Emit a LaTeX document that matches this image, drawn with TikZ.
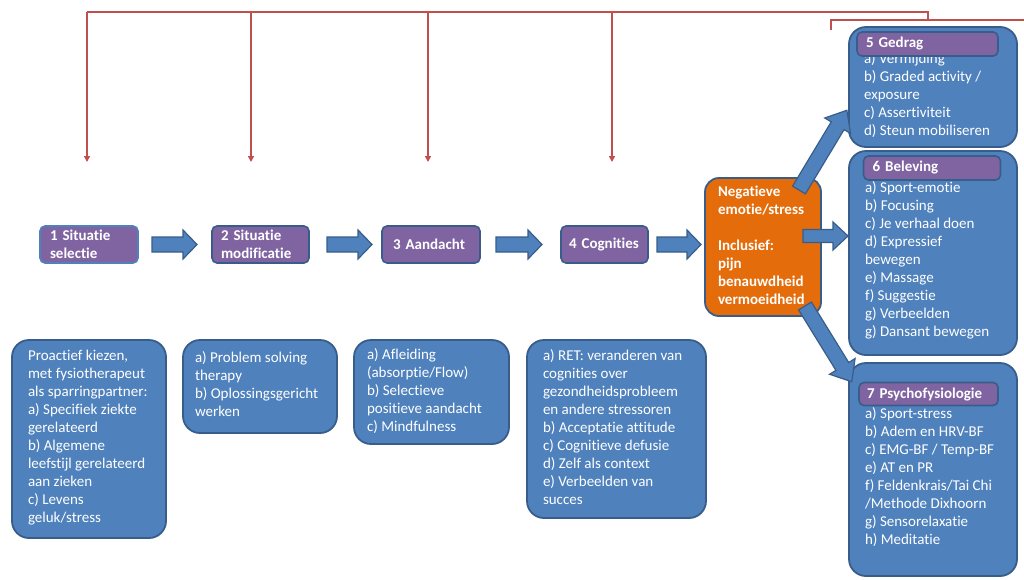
\documentclass[tikz,border=0pt]{standalone}
\usepackage{fontspec}
\setmainfont{Carlito}[Ligatures={NoCommon,NoRare,NoContextual}]
\usetikzlibrary{arrows.meta}
\definecolor{bfill}{HTML}{4F81BD}
\definecolor{bline}{HTML}{385D8A}
\definecolor{pfill}{HTML}{8064A2}
\definecolor{ofill}{HTML}{E46C0A}
\definecolor{rline}{HTML}{C0504D}
\newcommand\blockarr[7]{% tail x, tail y, angle, length, shaft half, head half, head length
  \draw[barrow, shift={(#1,#2)}, rotate=#3]
    (0,-#5) -- (#4-#7,-#5) -- (#4-#7,-#6) -- (#4,0) -- (#4-#7,#6) -- (#4-#7,#5) -- (0,#5) -- cycle;}
\tikzset{
  every node/.style={inner sep=0pt, outer sep=0pt},
  txt/.style={font=\fontsize{15}{18}\selectfont, text=white, align=left, anchor=north west},
  ttl/.style={font=\bfseries\fontsize{15}{18}\selectfont, text=white, align=left},
  titlebox/.style={draw=bline, line width=1.6pt, fill=pfill, rounded corners=5pt},
  bigbox/.style={draw=bline, line width=1.8pt, fill=bfill, rounded corners=17pt},
  orangebox/.style={draw=bline, line width=1.8pt, fill=ofill, rounded corners=14pt},
  fbline/.style={draw=rline, line width=1.6pt},
  fb/.style={draw=rline, line width=1.6pt, -{Triangle[length=6pt,width=6pt]}},
  barrow/.style={draw=bline, line width=1.2pt, fill=bfill, line join=miter},
}
\begin{document}
\begin{tikzpicture}[x=1pt,y=-1pt]
\useasboundingbox (0,0) rectangle (1024,579);
% feedback lines
\coordinate (r1) at (87,12);
\coordinate (r2) at (251,12);
\coordinate (r3) at (428,12);
\coordinate (r4) at (612,12);
\coordinate (rc) at (928,12);
\coordinate (rd) at (928,20);
\coordinate (e1) at (87,162);
\coordinate (e2) at (251,162);
\coordinate (e3) at (428,162);
\coordinate (e4) at (612,162);
\coordinate (s5a) at (831,30);
\coordinate (s5b) at (831,20);
\coordinate (s5c) at (1024,20);
\draw[fbline] (r1) -- (rc) -- (rd);
\draw[fbline] (s5a) -- (s5b) -- (s5c);
\draw[fb] (r1) -- (e1);
\draw[fb] (r2) -- (e2);
\draw[fb] (r3) -- (e3);
\draw[fb] (r4) -- (e4);

% title boxes
\node[titlebox, draw=bfill, minimum width=98, minimum height=37, text width=78, ttl] (t1) at (89,244.5) {1 Situatie\\selectie};
\node[titlebox, minimum width=97, minimum height=37, text width=79, ttl] (t2) at (260.5,244.5) {2 Situatie\\modificatie};
\node[titlebox, minimum width=98, minimum height=37, text width=76, ttl] (t3) at (431,244.5) {3 Aandacht};
\node[titlebox, minimum width=87, minimum height=37, text width=71, ttl] (t4) at (604.5,244.5) {4 Cognities};

% horizontal block arrows
\blockarr{152}{244.5}{0}{45}{7.5}{14.5}{14}
\blockarr{327}{244.5}{0}{45}{7.5}{14.5}{14}
\blockarr{496}{244.5}{0}{46}{7.5}{14.5}{14}
\blockarr{657}{244.5}{0}{44}{7.5}{14.5}{14}

% orange box
\node[orangebox, minimum width=116, minimum height=138] (ob) at (763,247) {};
\node[ttl, anchor=north west] (obt) at (718,185.5) {Negatieve\\emotie/stress\\[18pt]Inclusief:\\pijn\\benauwdheid\\vermoeidheid};

% right boxes
\node[bigbox, minimum width=168, minimum height=120] (g5) at (933,87) {};
\node[txt] (g5t) at (864,52.5) {a) Vermijding\\b) Graded activity /\\exposure\\c) Assertiviteit\\d) Steun mobiliseren};
\node[titlebox, minimum width=141, minimum height=24, text width=123, ttl] (h5) at (927.5,44) {5 Gedrag};

\node[bigbox, minimum width=168, minimum height=204] (g6) at (933,253) {};
\node[titlebox, minimum width=137, minimum height=24, text width=119, ttl] (h6) at (932,168) {6 Beleving};
\node[txt] (g6t) at (865,181.5) {a) Sport-emotie\\b) Focusing\\c) Je verhaal doen\\d) Expressief\\bewegen\\e) Massage\\f) Suggestie\\g) Verbeelden\\g) Dansant bewegen};

\node[bigbox, minimum width=168, minimum height=213] (g7) at (933,469.5) {};
\node[titlebox, minimum width=139, minimum height=23, text width=123, ttl] (h7) at (928.5,394) {7 Psychofysiologie};
\node[txt] (g7t) at (865,407.5) {a) Sport-stress\\b) Adem en HRV-BF\\c) EMG-BF / Temp-BF\\e) AT en PR\\f) Feldenkrais/Tai Chi\\/Methode Dixhoorn\\g) Sensorelaxatie\\h) Meditatie};

% diagonal and right block arrows from orange box
\blockarr{799}{190}{59}{93}{7.5}{15}{18}
\blockarr{803}{236}{0}{45}{6.5}{14}{15}
\blockarr{805}{306}{-58.3}{89}{7.5}{15}{18}

% bottom boxes
\node[bigbox, minimum width=154, minimum height=198] (A) at (89,439) {};
\node[txt] (At) at (28,350.5) {Proactief kiezen,\\met fysiotherapeut\\als sparringpartner:\\a) Specifiek ziekte\\gerelateerd\\b) Algemene\\leefstijl gerelateerd\\aan zieken\\c) Levens\\geluk/stress};
\node[bigbox, minimum width=154, minimum height=93] (B) at (260,386.5) {};
\node[txt] (Bt) at (195,351.5) {a) Problem solving\\therapy\\b) Oplossingsgericht\\werken};
\node[bigbox, minimum width=155, minimum height=104] (C) at (431.5,392) {};
\node[txt] (Ct) at (367,348.5) {a) Afleiding\\(absorptie/Flow)\\b) Selectieve\\positieve aandacht\\c) Mindfulness};
\node[bigbox, minimum width=179, minimum height=178] (D) at (616.5,429) {};
\node[txt] (Dt) at (543,349.5) {a) RET: veranderen van\\cognities over\\gezondheidsprobleem\\en andere stressoren\\b) Acceptatie attitude\\c) Cognitieve defusie\\d) Zelf als context\\e) Verbeelden van\\succes};
\end{tikzpicture}
\end{document}
